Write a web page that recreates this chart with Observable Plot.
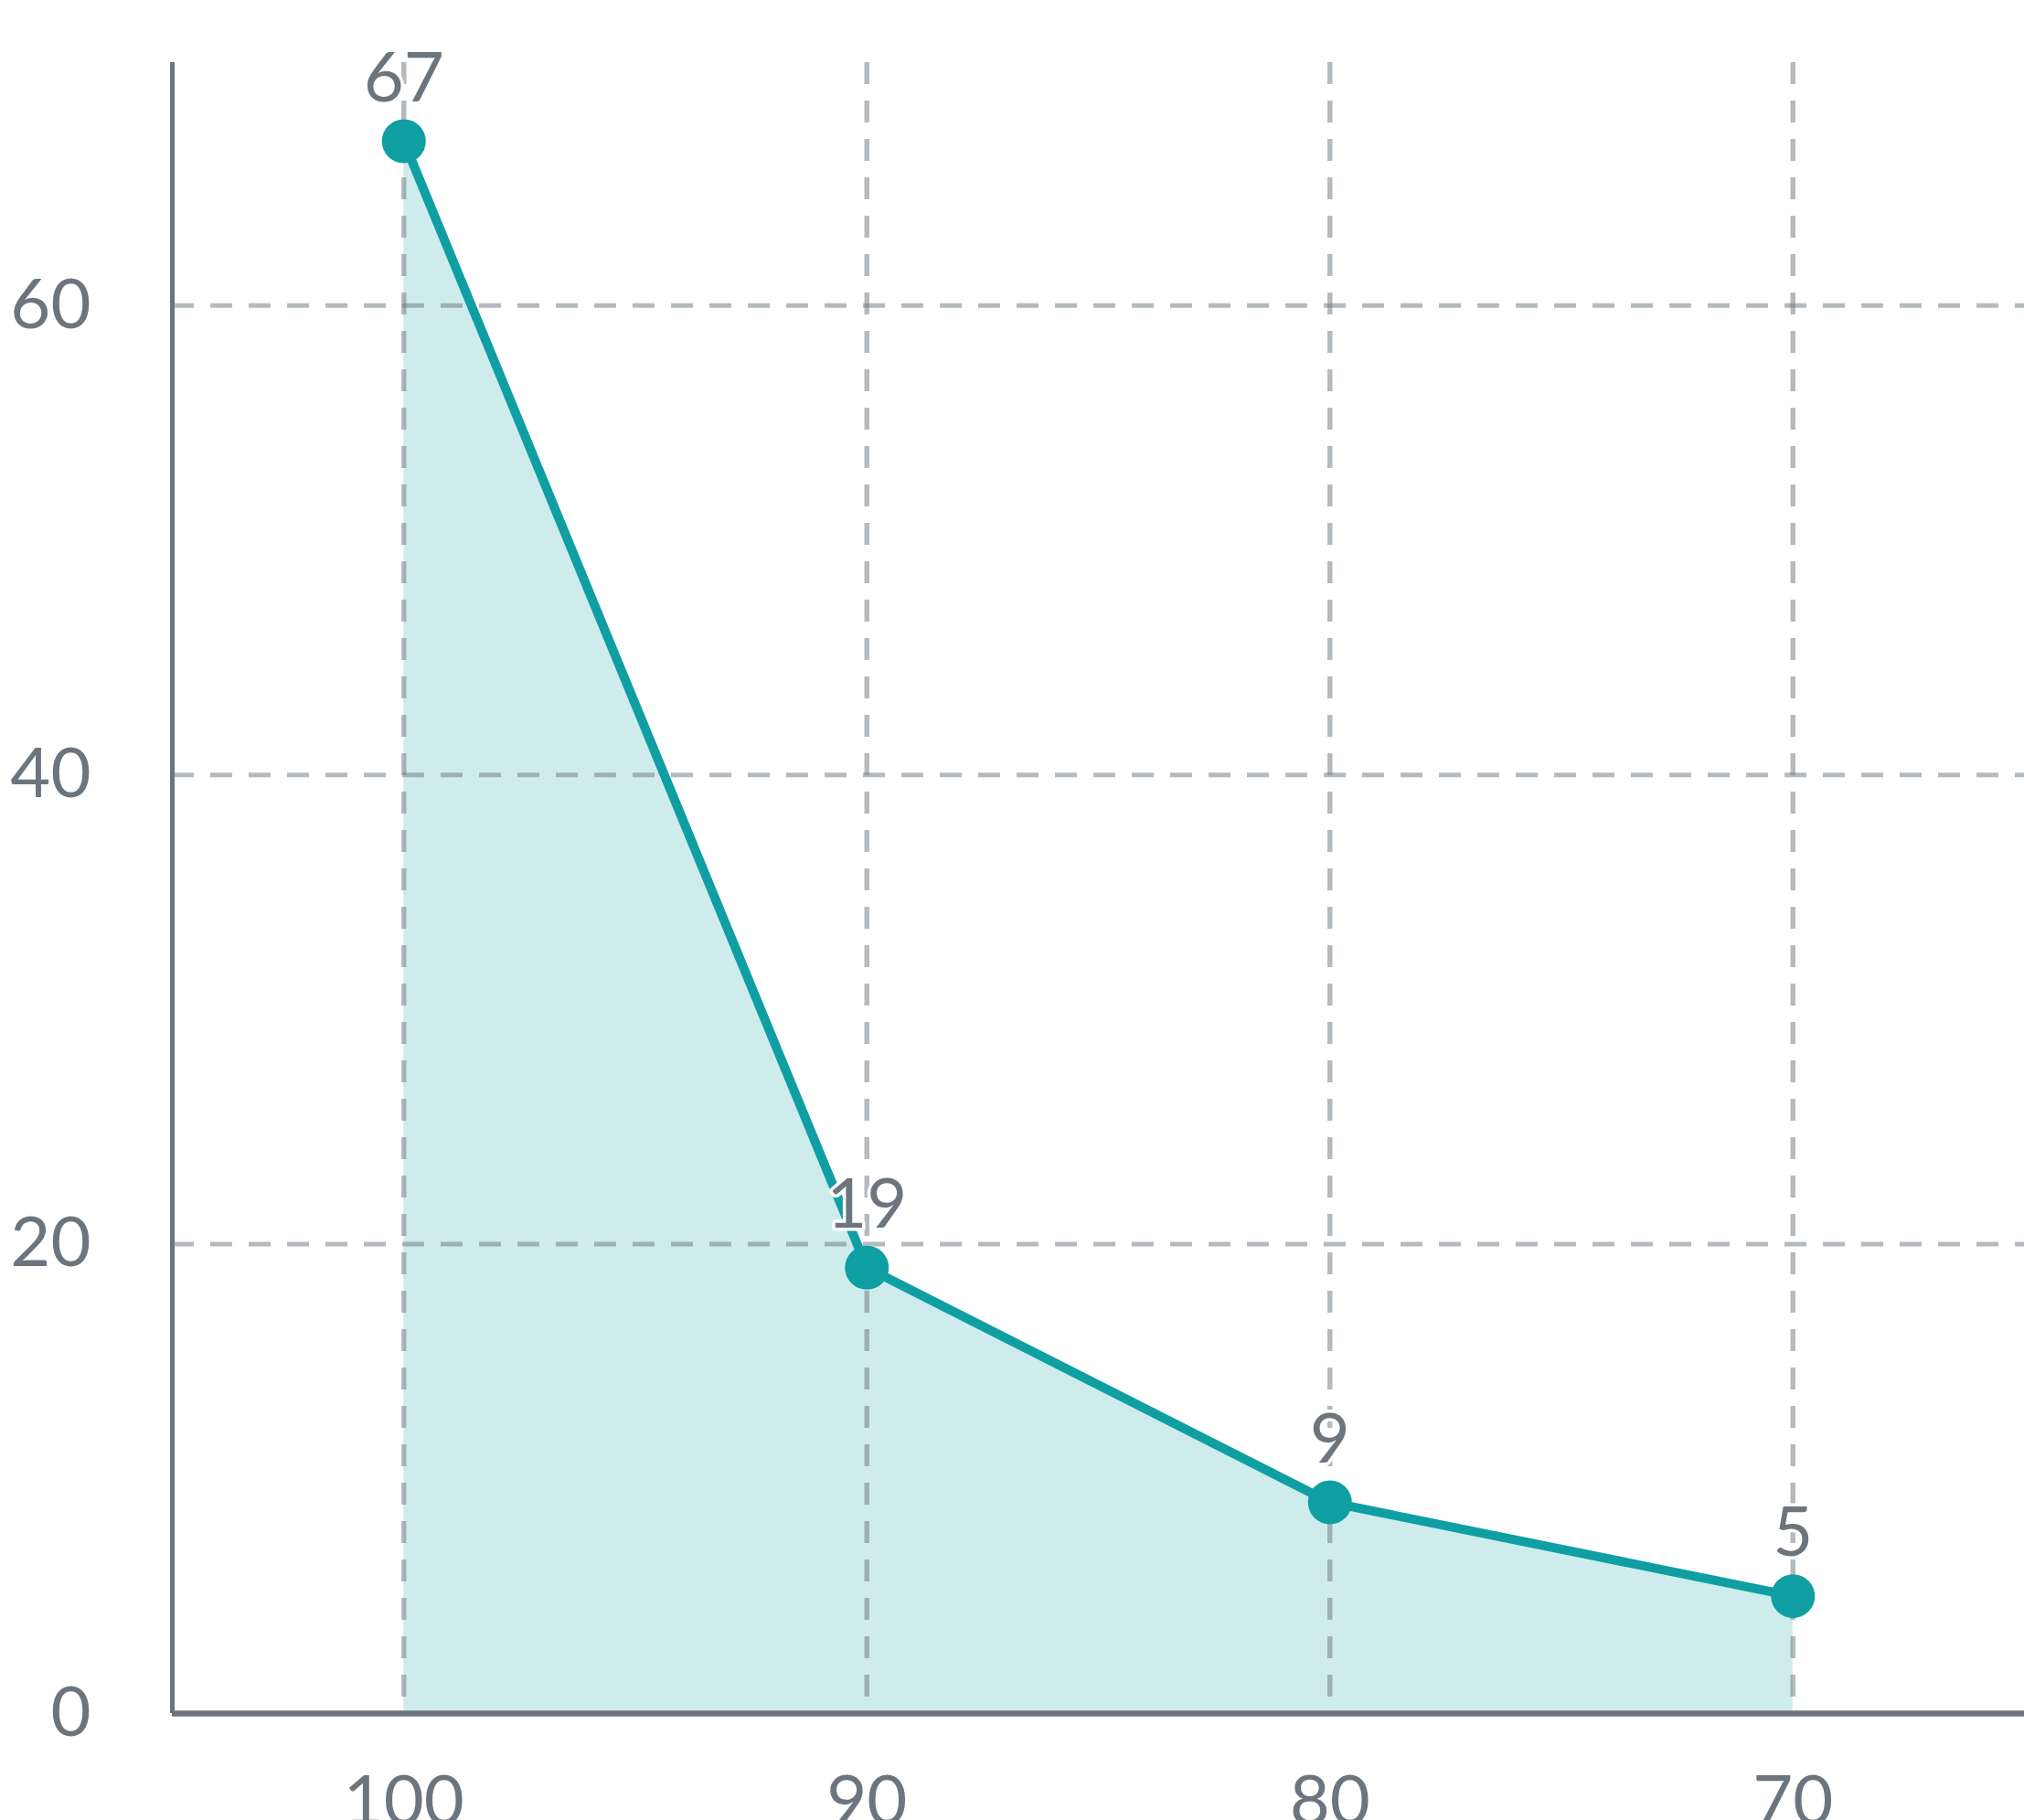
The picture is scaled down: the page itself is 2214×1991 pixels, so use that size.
<!DOCTYPE html>
<html>
<head>
<meta charset="utf-8">
<script src="https://cdn.jsdelivr.net/npm/d3@7"></script>
<script src="https://cdn.jsdelivr.net/npm/@observablehq/plot@0.6"></script>
<style>
  html, body { margin: 0; padding: 0; background: #fff; }
  #chart svg { display: block; }
</style>
</head>
<body>
<div id="chart"></div>
<script>
const categories = [100, 90, 80, 70];
const values = [67, 19, 9, 5];
const yTicks = [0, 20, 40, 60];

const data = categories.map((c, i) => ({x: c, y: values[i]}));
const teal = "#0f9fa3";
const gray = "#6c757d";
const yMax = d3.max(values) * 1.05;

const chart = Plot.plot({
  width: 2214,
  height: 1991,
  marginLeft: 188,
  marginRight: 0,
  marginTop: 68,
  marginBottom: 117,
  style: {fontFamily: "Lato, sans-serif", fontSize: "76px", color: gray, background: "#fff", overflow: "visible"},
  x: {type: "linear", domain: [105, 65]},
  y: {domain: [0, yMax]},
  marks: [
    Plot.areaY(data, {x: "x", y: "y", fill: teal, fillOpacity: 0.2}),
    Plot.ruleY(yTicks.filter(d => d > 0), {stroke: gray, strokeOpacity: 0.5, strokeWidth: 5, strokeDasharray: "24,18"}),
    Plot.ruleX(categories, {stroke: gray, strokeOpacity: 0.5, strokeWidth: 5.5, strokeDasharray: "24,18"}),
    Plot.ruleX([105], {y1: 0, y2: yMax, stroke: gray, strokeWidth: 5}),
    Plot.ruleY([0], {stroke: gray, strokeWidth: 6.5}),
    Plot.axisY({ticks: yTicks, tickSize: 0, tickPadding: 89, fill: gray, fontSize: 76, label: null}),
    Plot.axisX({ticks: categories, tickSize: 0, tickPadding: 68, fill: gray, fontSize: 76, label: null}),
    Plot.line(data, {x: "x", y: "y", stroke: teal, strokeWidth: 10}),
    Plot.dot(data, {x: "x", y: "y", r: 24, fill: teal, stroke: "none"}),
    Plot.text(data, {x: "x", y: "y", text: d => String(d.y), dy: -68, fill: gray, stroke: "white", strokeWidth: 7, fontSize: 76})
  ]
});
document.getElementById("chart").appendChild(chart);
</script>
</body>
</html>
